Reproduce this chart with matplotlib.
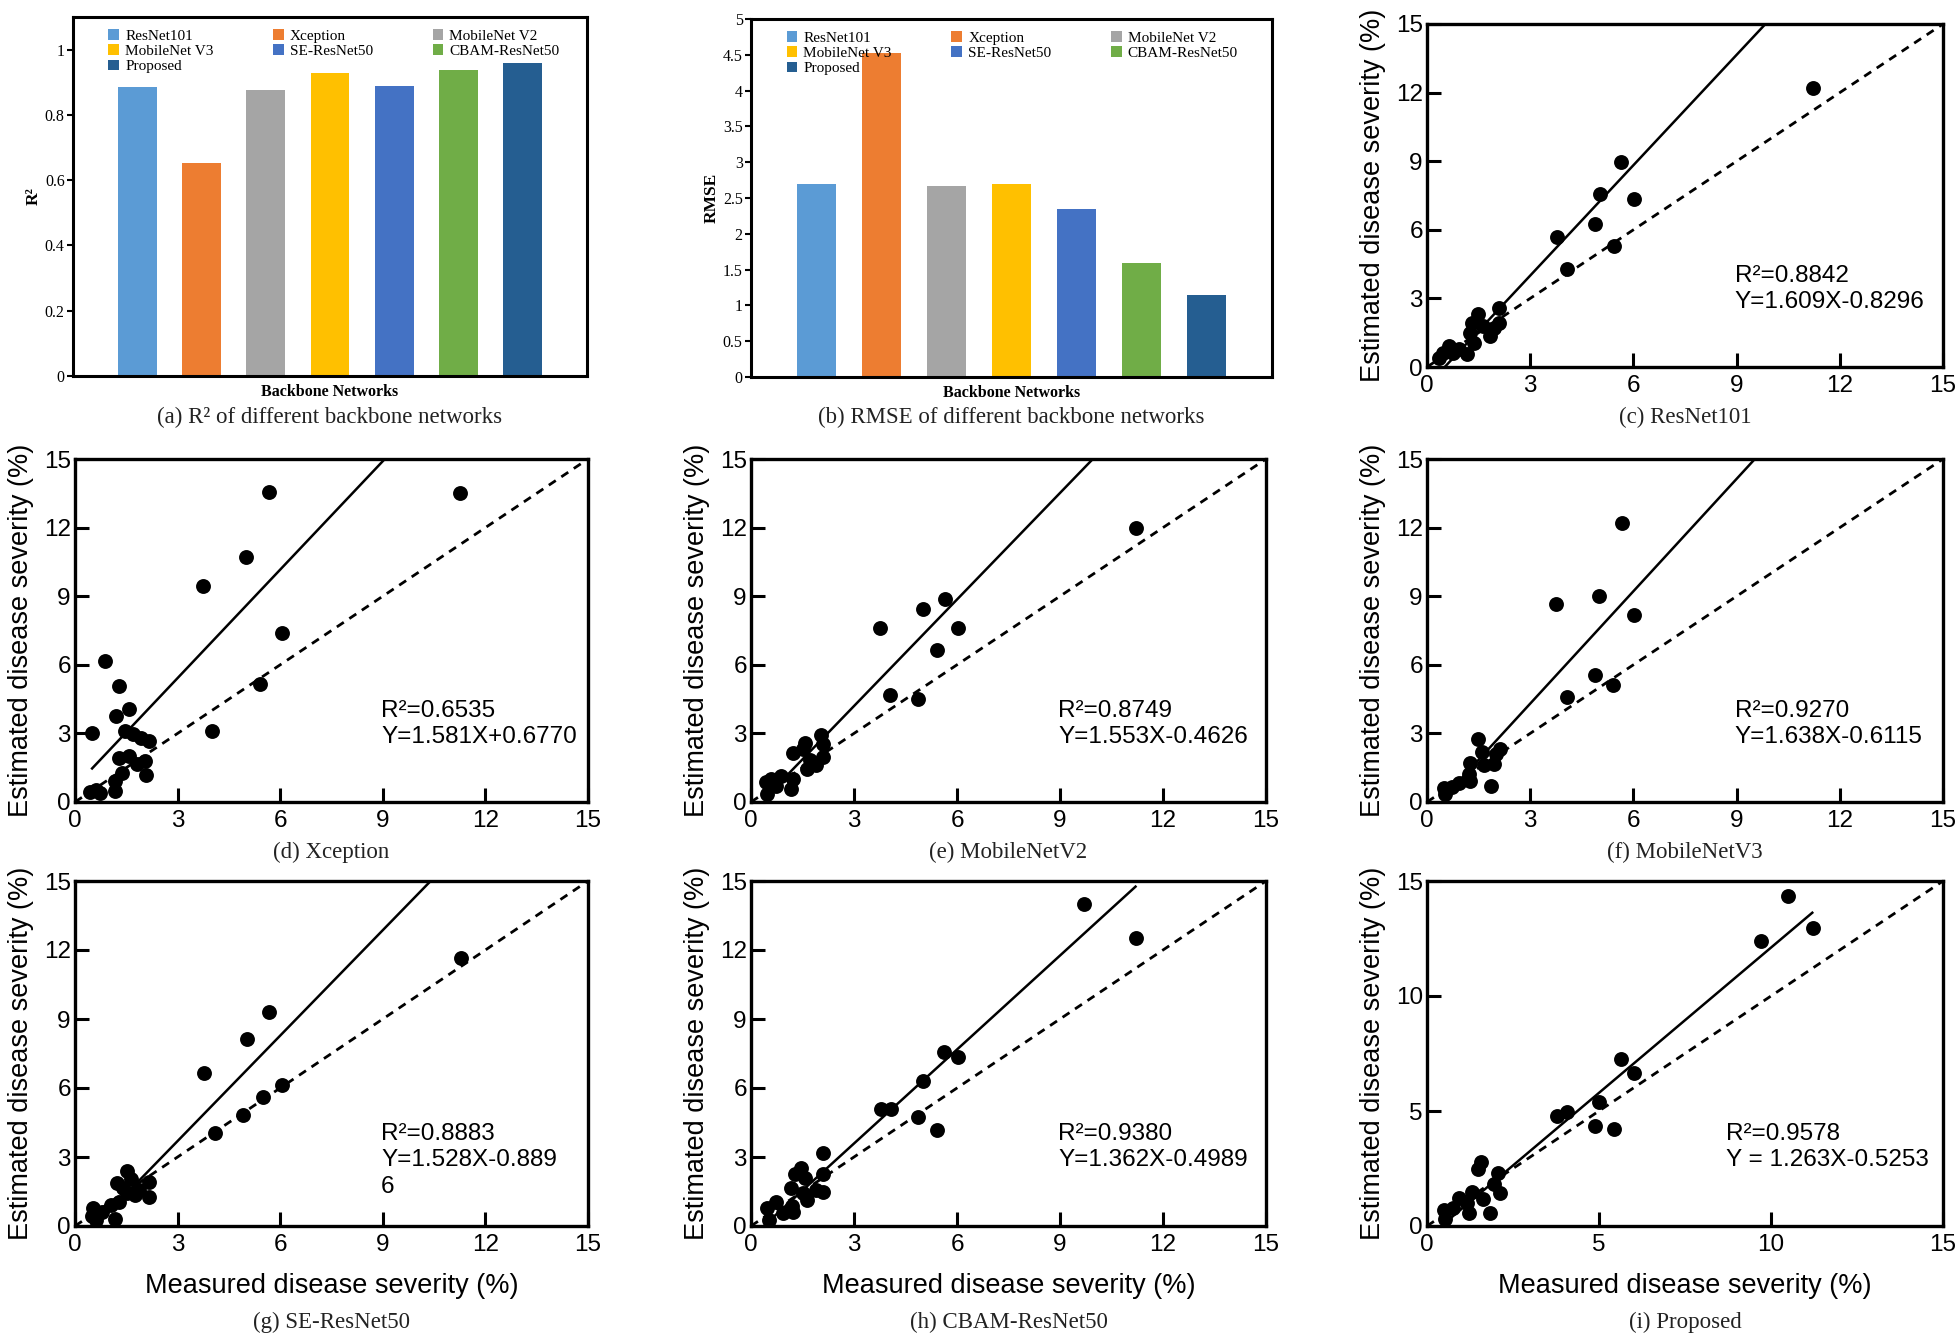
import numpy as np
import matplotlib
matplotlib.use("Agg")
import matplotlib.pyplot as plt
from matplotlib.patches import Patch

# ---------------- data ----------------
networks = ["ResNet101", "Xception", "MobileNet V2", "MobileNet V3",
            "SE-ResNet50", "CBAM-ResNet50", "Proposed"]
bar_colors = ["#5B9BD5", "#ED7D31", "#A5A5A5", "#FFC000",
              "#4472C4", "#70AD47", "#255E91"]
r2_values = [0.8842, 0.6535, 0.8749, 0.9270, 0.8883, 0.9380, 0.9578]
rmse_values = [2.69, 4.53, 2.67, 2.69, 2.34, 1.59, 1.14]

# scatter panels: measured (x) vs estimated (y)
c_x = [11.23, 5.63, 5.02, 6.03, 4.89, 3.77, 5.43, 4.07, 2.10, 2.10, 1.49, 1.32,
       1.84, 1.63, 1.24, 1.36, 1.17, 0.92, 0.63, 0.46, 0.34, 0.75, 1.95]
c_y = [12.22, 8.96, 7.57, 7.36, 6.27, 5.67, 5.28, 4.29, 2.59, 1.94, 2.30, 1.94,
       1.35, 1.79, 1.50, 1.06, 0.55, 0.77, 0.92, 0.63, 0.41, 0.63, 1.72]

d_x = [11.26, 5.66, 5.01, 3.75, 6.05, 0.89, 1.28, 5.42, 1.58, 1.19, 0.50, 4.02,
       1.46, 1.69, 1.93, 2.15, 1.58, 1.28, 2.05, 1.81, 1.36, 2.08, 1.16, 1.16,
       0.62, 0.44, 0.72]
d_y = [13.51, 13.54, 10.70, 9.44, 7.41, 6.16, 5.09, 5.14, 4.05, 3.76, 3.01, 3.12,
       3.09, 2.97, 2.82, 2.68, 2.02, 1.92, 1.80, 1.65, 1.26, 1.17, 0.92, 0.48,
       0.51, 0.45, 0.41]

e_x = [11.22, 5.64, 5.02, 3.75, 6.03, 5.42, 4.05, 4.87, 2.05, 1.58, 1.22, 1.52,
       2.11, 1.73, 2.11, 1.88, 1.62, 1.22, 1.16, 0.87, 0.72, 0.57, 0.43, 0.48]
e_y = [11.97, 8.88, 8.42, 7.60, 7.60, 6.63, 4.70, 4.49, 2.91, 2.59, 2.14, 2.33,
       2.55, 1.82, 1.97, 1.60, 1.46, 1.02, 0.55, 1.14, 0.70, 1.02, 0.87, 0.36]

f_x = [5.67, 5.00, 3.76, 6.03, 4.89, 5.40, 4.08, 1.49, 2.13, 2.01, 1.61, 1.26,
       1.95, 1.67, 1.21, 1.24, 0.92, 1.86, 0.72, 0.48, 0.52]
f_y = [12.19, 9.00, 8.66, 8.18, 5.56, 5.10, 4.59, 2.74, 2.33, 2.11, 2.18, 1.70,
       1.67, 1.60, 1.24, 0.92, 0.83, 0.68, 0.66, 0.61, 0.36]

g_x = [11.28, 5.67, 5.04, 3.78, 6.05, 5.49, 4.92, 4.08, 1.52, 1.22, 2.17, 1.63,
       1.40, 1.87, 1.75, 2.15, 1.52, 1.28, 1.04, 0.80, 0.54, 0.50, 0.62, 1.18]
g_y = [11.67, 9.31, 8.15, 6.67, 6.12, 5.59, 4.82, 4.05, 2.39, 1.88, 1.93, 2.03,
       1.64, 1.56, 1.35, 1.25, 1.42, 1.06, 0.91, 0.62, 0.80, 0.43, 0.26, 0.29]

h_x = [9.71, 11.22, 5.62, 6.03, 5.02, 3.78, 4.07, 4.87, 5.42, 2.09, 2.09, 1.46,
       1.28, 1.58, 2.11, 1.88, 1.16, 1.52, 1.64, 1.19, 1.22, 0.72, 0.93, 0.48, 0.51]
h_y = [14.01, 12.52, 7.57, 7.35, 6.31, 5.08, 5.08, 4.75, 4.17, 3.19, 2.26, 2.53,
       2.24, 2.07, 1.49, 1.56, 1.64, 1.42, 1.13, 0.87, 0.62, 1.06, 0.55, 0.77, 0.26]

i_x = [10.49, 11.23, 9.71, 5.63, 6.03, 5.00, 4.08, 3.77, 4.89, 5.43, 1.57, 1.47,
       2.07, 1.95, 2.13, 1.63, 1.32, 1.17, 1.21, 0.92, 1.84, 0.75, 0.49, 0.52]
i_y = [14.33, 12.97, 12.39, 7.28, 6.67, 5.37, 4.97, 4.78, 4.36, 4.21, 2.79, 2.50,
       2.29, 1.82, 1.45, 1.16, 1.49, 0.98, 0.55, 1.20, 0.55, 0.77, 0.69, 0.29]

slopes = [1.609, 1.581, 1.553, 1.638, 1.528, 1.362, 1.263]
intercepts = [-0.8296, 0.6770, -0.4626, -0.6115, -0.8896, -0.4989, -0.5253]
fit_x_range = [0.5, 11.2]
r2_texts = ["R²=0.8842", "R²=0.6535", "R²=0.8749", "R²=0.9270",
            "R²=0.8883", "R²=0.9380", "R²=0.9578"]
eq_texts = ["Y=1.609X-0.8296", "Y=1.581X+0.6770", "Y=1.553X-0.4626",
            "Y=1.638X-0.6115", "Y=1.528X-0.889\n6", "Y=1.362X-0.4989",
            "Y = 1.263X-0.5253"]
captions = ["(c) ResNet101", "(d) Xception", "(e) MobileNetV2", "(f) MobileNetV3",
            "(g) SE-ResNet50", "(h) CBAM-ResNet50", "(i) Proposed"]

# ---------------- figure ----------------
W, H = 1960, 1341
fig = plt.figure(figsize=(W / 100, H / 100), dpi=100)

SANS = "Liberation Sans"
SERIF = "Liberation Serif"


def rect(l, t, r, b):
    return [l / W, 1 - b / H, (r - l) / W, (b - t) / H]


def fig_caption(ax_r, y_px, text, size=16.5):
    l, t, r, b = ax_r
    fig.text((l + r) / 2 / W, 1 - y_px / H, text, ha="center", va="center",
             fontsize=size, family=SERIF, color="#222222")


# ---------- bar charts ----------
def bar_panel(ax_r, values, ylim, yticks, yticklabels, ylabel, caption):
    ax = fig.add_axes(rect(*ax_r))
    xpos = np.arange(len(networks))
    ax.bar(xpos, values, width=0.6, color=bar_colors, zorder=2)
    ax.set_xlim(-1, 7)
    ax.set_ylim(*ylim)
    ax.set_xticks([])
    ax.set_yticks(yticks)
    ax.set_yticklabels(yticklabels, family=SERIF, fontsize=11.5)
    ax.tick_params(axis="y", direction="out", length=4, width=1.5, pad=2)
    for s in ax.spines.values():
        s.set_linewidth(2.2)
    ax.set_ylabel(ylabel, family=SERIF, fontsize=12.5, fontweight="bold", labelpad=2)
    ax.set_xlabel("Backbone Networks", family=SERIF, fontsize=11.5,
                  fontweight="bold", labelpad=6)
    handles = [Patch(facecolor=c, edgecolor="none") for c in bar_colors]
    order = [0, 3, 6, 1, 4, 2, 5]
    ax.legend([handles[k] for k in order], [networks[k] for k in order],
              ncol=3, loc="upper left", bbox_to_anchor=(0.045, 1.0),
              frameon=False, prop={"family": SERIF, "size": 11},
              handlelength=0.7, handleheight=0.7, handletextpad=0.4,
              labelspacing=0.1, columnspacing=3.9, borderpad=0.3)
    fig_caption(ax_r, 417, caption)
    return ax


bar_panel((73, 17, 587, 376), r2_values, (0, 1.1), [0, 0.2, 0.4, 0.6, 0.8, 1.0],
          ["0", "0.2", "0.4", "0.6", "0.8", "1"], "R²",
          "(a) R² of different backbone networks")
bar_panel((751, 19, 1272, 377), rmse_values, (0, 5),
          [0, 0.5, 1, 1.5, 2, 2.5, 3, 3.5, 4, 4.5, 5],
          ["0", "0.5", "1", "1.5", "2", "2.5", "3", "3.5", "4", "4.5", "5"],
          "RMSE", "(b) RMSE of different backbone networks")

# ---------- scatter panels ----------
cols = [(75, 588), (751, 1266), (1427, 1943)]
rows = [(24, 367), (459, 802), (881, 1226)]
panel_pos = [(2, 0), (0, 1), (1, 1), (2, 1), (0, 2), (1, 2), (2, 2)]
xs_all = [c_x, d_x, e_x, f_x, g_x, h_x, i_x]
ys_all = [c_y, d_y, e_y, f_y, g_y, h_y, i_y]
caption_y = {0: 417, 1: 852, 2: 1322}

for k in range(7):
    ci, ri = panel_pos[k]
    l, r = cols[ci]
    t, b = rows[ri]
    ax = fig.add_axes(rect(l, t, r, b))
    x = np.array(xs_all[k])
    y = np.array(ys_all[k])
    ax.scatter(x, y, s=115, color="black", zorder=3, linewidths=0)
    xf = np.array(fit_x_range)
    ax.plot(xf, slopes[k] * xf + intercepts[k], color="black", lw=1.8, zorder=2)
    ax.plot([0, 15], [0, 15], color="black", lw=2.0, ls=(0, (3, 2.4)), zorder=2)
    ax.set_xlim(0, 15)
    ax.set_ylim(0, 15)
    ticks = [0, 5, 10, 15] if k == 6 else [0, 3, 6, 9, 12, 15]
    ax.set_xticks(ticks)
    ax.set_yticks(ticks)
    ax.set_xticklabels([str(v) for v in ticks], family=SANS, fontsize=17.5)
    ax.set_yticklabels([str(v) for v in ticks], family=SANS, fontsize=17.5)
    ax.tick_params(direction="in", length=10, width=2.2)
    ax.tick_params(axis="x", pad=6)
    ax.tick_params(axis="y", pad=3)
    for s in ax.spines.values():
        s.set_linewidth(2.4)
    ax.set_ylabel("Estimated disease severity (%)", family=SANS, fontsize=19.5,
                  labelpad=7)
    if ri == 2:
        ax.set_xlabel("Measured disease severity (%)", family=SANS, fontsize=19.5,
                      labelpad=12)
    tx = 8.7 if k == 6 else 8.95
    lines = [r2_texts[k]] + eq_texts[k].split("\n")
    ypos = [4.0, 2.85, 1.7]
    for txt, yy in zip(lines, ypos):
        ax.text(tx, yy, txt, family=SANS, fontsize=17.5, va="center", ha="left")
    fig_caption((l, t, r, b), caption_y[ri], captions[k])

fig.savefig("out.png", dpi=100)
